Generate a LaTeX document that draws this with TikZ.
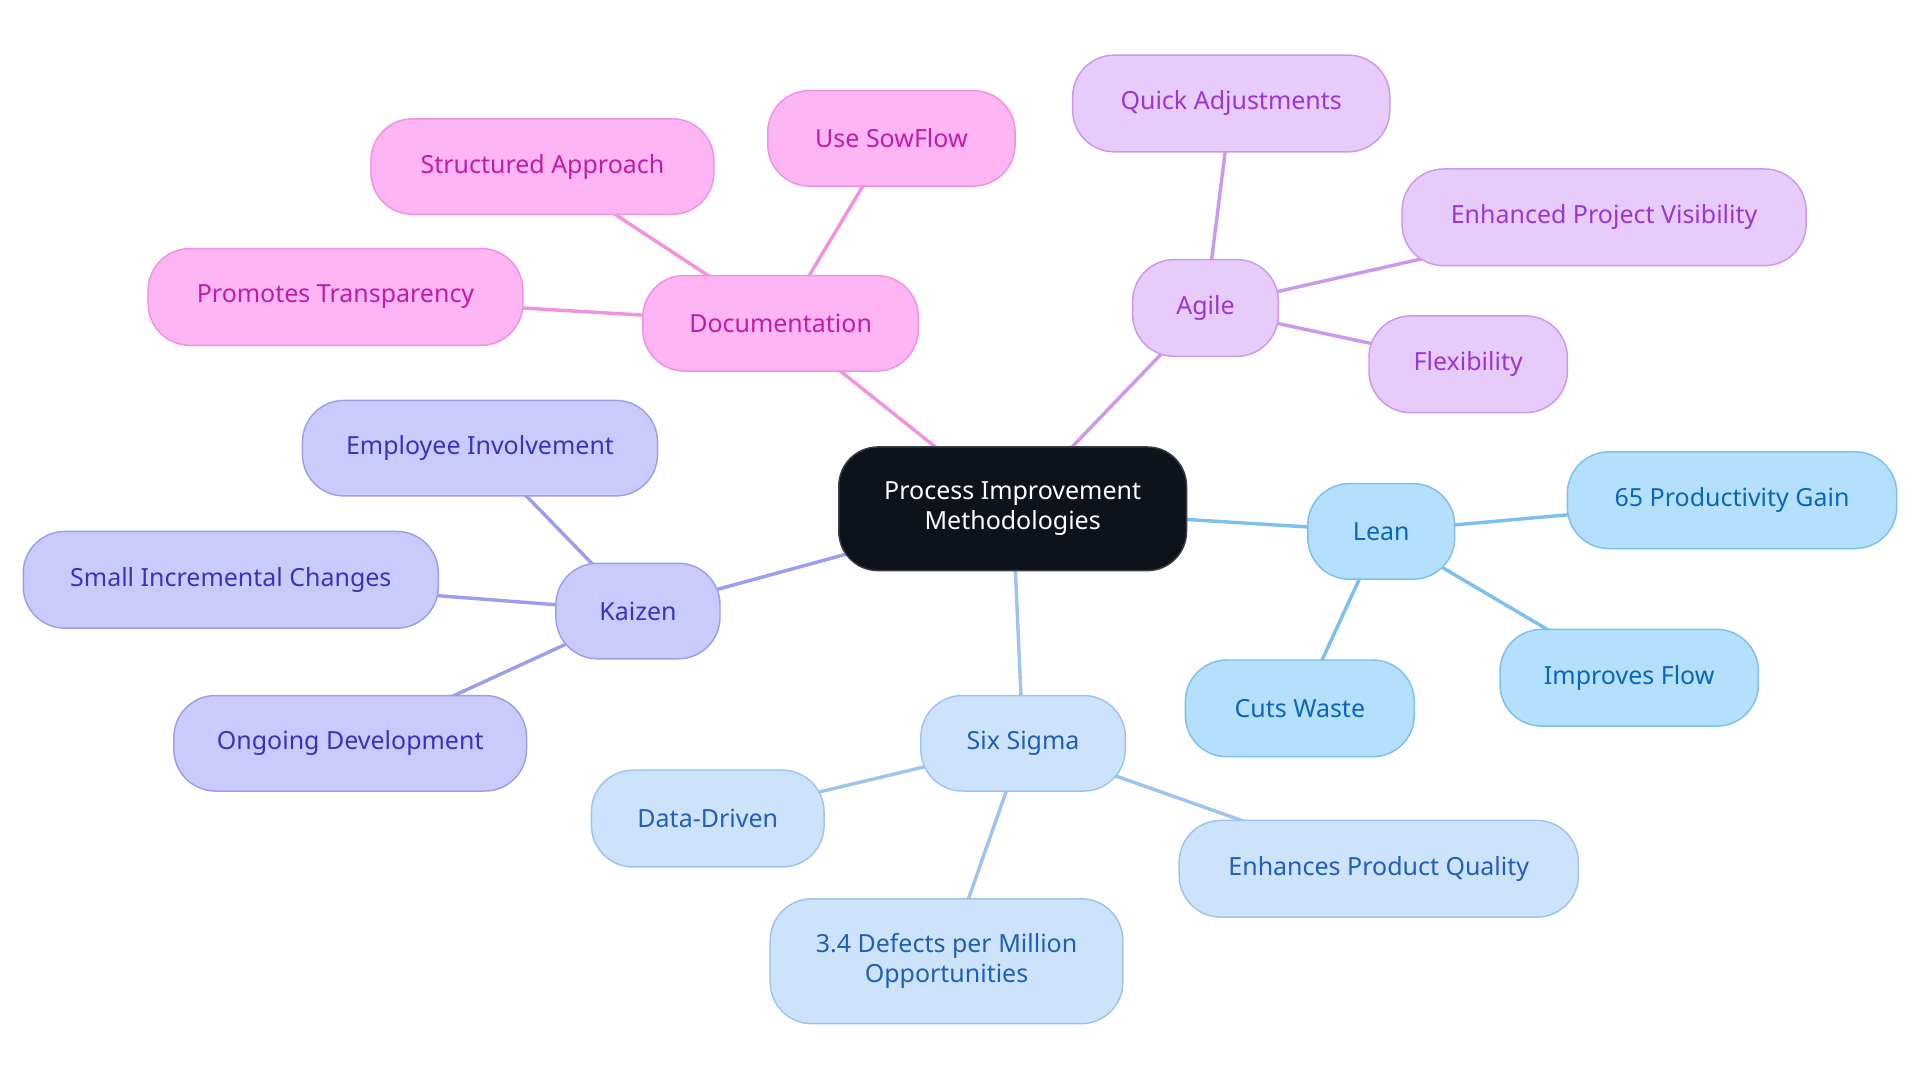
\documentclass[tikz,border=0pt]{standalone}
\usepackage{fontspec}
\setmainfont{Noto Sans}
\pgfdeclarelayer{background}
\pgfsetlayers{background,main}
\definecolor{pkF}{HTML}{FDB6F3}\definecolor{pkD}{HTML}{F291DF}\definecolor{pkT}{HTML}{C21BA8}
\definecolor{lvF}{HTML}{E7CCFB}\definecolor{lvD}{HTML}{CB98EF}\definecolor{lvT}{HTML}{9B35D6}
\definecolor{lnF}{HTML}{B4DFFD}\definecolor{lnD}{HTML}{7DBFEE}\definecolor{lnT}{HTML}{0A66B8}
\definecolor{ssF}{HTML}{CDE3FB}\definecolor{ssD}{HTML}{9EC4EE}\definecolor{ssT}{HTML}{1F5EB9}
\definecolor{kzF}{HTML}{CACBFC}\definecolor{kzD}{HTML}{9D9DEF}\definecolor{kzT}{HTML}{3634BF}
\definecolor{ctF}{HTML}{0D121B}\definecolor{ctD}{HTML}{3A3F47}
\tikzset{
  box/.style={rectangle, rounded corners=17pt, line width=0.6pt, inner sep=0pt, align=center, font=\fontsize{10.2}{12.2}\selectfont},
  pk/.style={box, fill=pkF, draw=pkD, text=pkT},
  lv/.style={box, fill=lvF, draw=lvD, text=lvT},
  ln/.style={box, fill=lnF, draw=lnD, text=lnT},
  ss/.style={box, fill=ssF, draw=ssD, text=ssT},
  kz/.style={box, fill=kzF, draw=kzD, text=kzT},
  ct/.style={box, rounded corners=16pt, fill=ctF, draw=ctD, text=white},
  ed/.style={line width=1.4pt},
}
\begin{document}
\begin{tikzpicture}[x=0.5pt,y=-0.5pt]
\useasboundingbox (0,0) rectangle (1568,884);
% center
\node[ct, minimum width=142pt, minimum height=50.5pt] (c) at (827,415.5) {Process Improvement\\Methodologies};
% Documentation
\node[pk, minimum width=112.5pt, minimum height=39pt] (doc) at (637.5,264) {Documentation};
\node[pk, minimum width=140pt, minimum height=39pt] (sa) at (443,136) {Structured Approach};
\node[pk, minimum width=101pt, minimum height=39pt] (usf) at (728,113) {Use SowFlow};
\node[pk, minimum width=153pt, minimum height=39.5pt] (pt) at (274,242.5) {Promotes Transparency};
% Agile
\node[lv, minimum width=59.5pt, minimum height=39.5pt] (ag) at (984.5,251.5) {Agile};
\node[lv, minimum width=129.5pt, minimum height=39.5pt] (qa) at (1005.5,84.5) {Quick Adjustments};
\node[lv, minimum width=165pt, minimum height=39.5pt] (epv) at (1310,177.5) {Enhanced Project Visibility};
\node[lv, minimum width=81pt, minimum height=39.5pt] (fx) at (1199,297.5) {Flexibility};
% Lean
\node[ln, minimum width=60pt, minimum height=39pt] (ln) at (1128,434) {Lean};
\node[ln, minimum width=134.5pt, minimum height=39.5pt] (pg) at (1414.5,408.5) {65 Productivity Gain};
\node[ln, minimum width=105.5pt, minimum height=39.5pt] (if) at (1330.5,553.5) {Improves Flow};
\node[ln, minimum width=93.5pt, minimum height=39.5pt] (cw) at (1061.5,578.5) {Cuts Waste};
% Six Sigma
\node[ss, minimum width=83.5pt, minimum height=39pt] (ss) at (835.5,607) {Six Sigma};
\node[ss, minimum width=95pt, minimum height=39.5pt] (dd) at (578,668.5) {Data-Driven};
\node[ss, minimum width=163pt, minimum height=39.5pt] (epq) at (1126,709.5) {Enhances Product Quality};
\node[ss, minimum width=144pt, minimum height=51pt] (dpm) at (773,785) {3.4 Defects per Million\\Opportunities};
% Kaizen
\node[kz, minimum width=67pt, minimum height=39pt] (kz) at (521,499) {Kaizen};
\node[kz, minimum width=145pt, minimum height=39pt] (ei) at (392,366) {Employee Involvement};
\node[kz, minimum width=169.5pt, minimum height=39.5pt] (sic) at (188.5,473.5) {Small Incremental Changes};
\node[kz, minimum width=144pt, minimum height=39pt] (od) at (286,607) {Ongoing Development};
\begin{pgfonlayer}{background}
\draw[ed, draw=pkD] (c.center) -- (doc.center);
\draw[ed, draw=pkD] (doc.center) -- (sa.center);
\draw[ed, draw=pkD] (doc.center) -- (usf.center);
\draw[ed, draw=pkD] (doc.center) -- (pt.center);
\draw[ed, draw=lvD] (c.center) -- (ag.center);
\draw[ed, draw=lvD] (ag.center) -- (qa.center);
\draw[ed, draw=lvD] (ag.center) -- (epv.center);
\draw[ed, draw=lvD] (ag.center) -- (fx.center);
\draw[ed, draw=lnD] (c.center) -- (ln.center);
\draw[ed, draw=lnD] (ln.center) -- (pg.center);
\draw[ed, draw=lnD] (ln.center) -- (if.center);
\draw[ed, draw=lnD] (ln.center) -- (cw.center);
\draw[ed, draw=ssD] (c.center) -- (ss.center);
\draw[ed, draw=ssD] (ss.center) -- (dd.center);
\draw[ed, draw=ssD] (ss.center) -- (epq.center);
\draw[ed, draw=ssD] (ss.center) -- (dpm.center);
\draw[ed, draw=kzD] (c.center) -- (kz.center);
\draw[ed, draw=kzD] (kz.center) -- (ei.center);
\draw[ed, draw=kzD] (kz.center) -- (sic.center);
\draw[ed, draw=kzD] (kz.center) -- (od.center);
\end{pgfonlayer}
\end{tikzpicture}
\end{document}
